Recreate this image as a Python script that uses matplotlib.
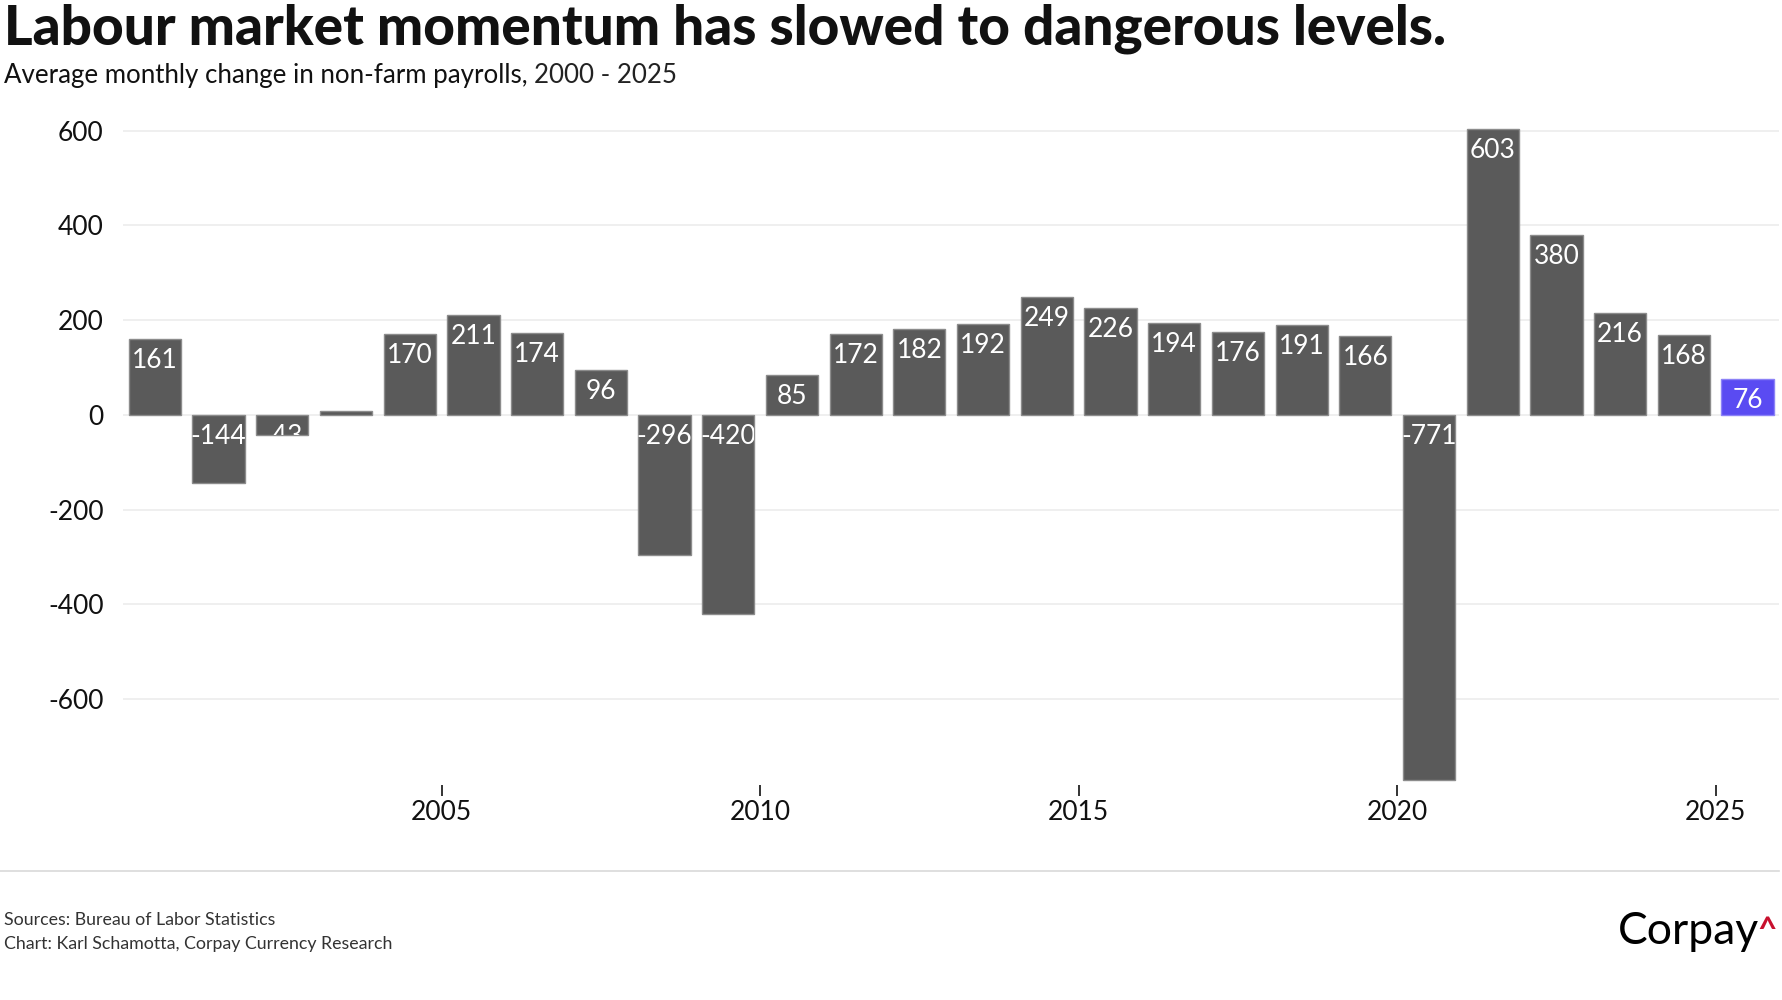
import numpy as np
import matplotlib.pyplot as plt

years = np.arange(2000, 2026)
values = [161, -144, -43, 9, 170, 211, 174, 96, -296, -420, 85, 172, 182,
          192, 249, 226, 194, 176, 191, 166, -771, 603, 380, 216, 168, 76]
labels = [str(v) for v in values]
yticks = [-600, -400, -200, 0, 200, 400, 600]
xticks = [2005, 2010, 2015, 2020, 2025]

plt.rcParams['font.family'] = ['Lato', 'DejaVu Sans']

fig = plt.figure(figsize=(17.83, 10), dpi=100)
ax = fig.add_axes([0.0690, 0.215, 0.9290, 0.659])

colors = ['#5a5a5a'] * len(values)
edges = ['#8c8c8c'] * len(values)
colors[-1] = '#5a4bf2'
edges[-1] = '#8c82f7'

bars = ax.bar(years + 0.5, values, width=0.82, color=colors, edgecolor=edges,
              linewidth=1, zorder=3)

# labels sit at the top of each bar, clipped to the bar itself
for b, v, lab in zip(bars, values, labels):
    t = ax.annotate(lab, (b.get_x() + b.get_width() / 2, max(v, 0)),
                    xytext=(0, -6.5), textcoords='offset points',
                    ha='center', va='top', color='white', fontsize=19, zorder=4)
    t.set_clip_path(b)

ax.set_xlim(2000, 2026)
ax.set_ylim(-781, 610)
ax.set_yticks(yticks)
ax.set_yticklabels([str(y) for y in yticks])
ax.set_xticks(xticks)
ax.set_xticklabels([str(x) for x in xticks])
ax.grid(axis='y', color='#ececec', linewidth=1.2, zorder=0)
for s in ax.spines.values():
    s.set_visible(False)
ax.tick_params(axis='y', length=0, pad=14, labelsize=19, labelcolor='#111111')
ax.tick_params(axis='x', direction='out', length=8, width=1.2, color='#111111',
               pad=3, labelsize=19, labelcolor='#111111')

fig.text(0.002, 0.955, 'Labour market momentum has slowed to dangerous levels.',
         fontsize=39.5, fontweight='black', color='#111111', va='baseline')
t1 = fig.text(0.002, 0.917, 'Average monthly change in non-farm payrolls, ',
              fontsize=18.6, color='#111111', va='baseline')
fig.canvas.draw()
bb = t1.get_window_extent()
fig.text(bb.x1 / fig.bbox.width, 0.917, '2000 - 2025', fontsize=18.6,
         color='#222222', va='baseline')

fig.add_artist(plt.Line2D([0, 0.998], [0.129, 0.129], color='#d9d9d9', linewidth=1.2))

fig.text(0.002, 0.075, 'Sources: Bureau of Labor Statistics', fontsize=12.8,
         color='#333333', va='baseline')
fig.text(0.002, 0.051, 'Chart: Karl Schamotta, Corpay Currency Research', fontsize=12.8,
         color='#333333', va='baseline')

fig.text(0.9865, 0.056, 'Corpay', fontsize=32, color='#000000', ha='right',
         va='baseline')
fig.text(0.9965, 0.060, '^', fontsize=24, fontweight='bold', color='#c8102e',
         ha='right', va='baseline')

fig.savefig('out.png', dpi=100)
